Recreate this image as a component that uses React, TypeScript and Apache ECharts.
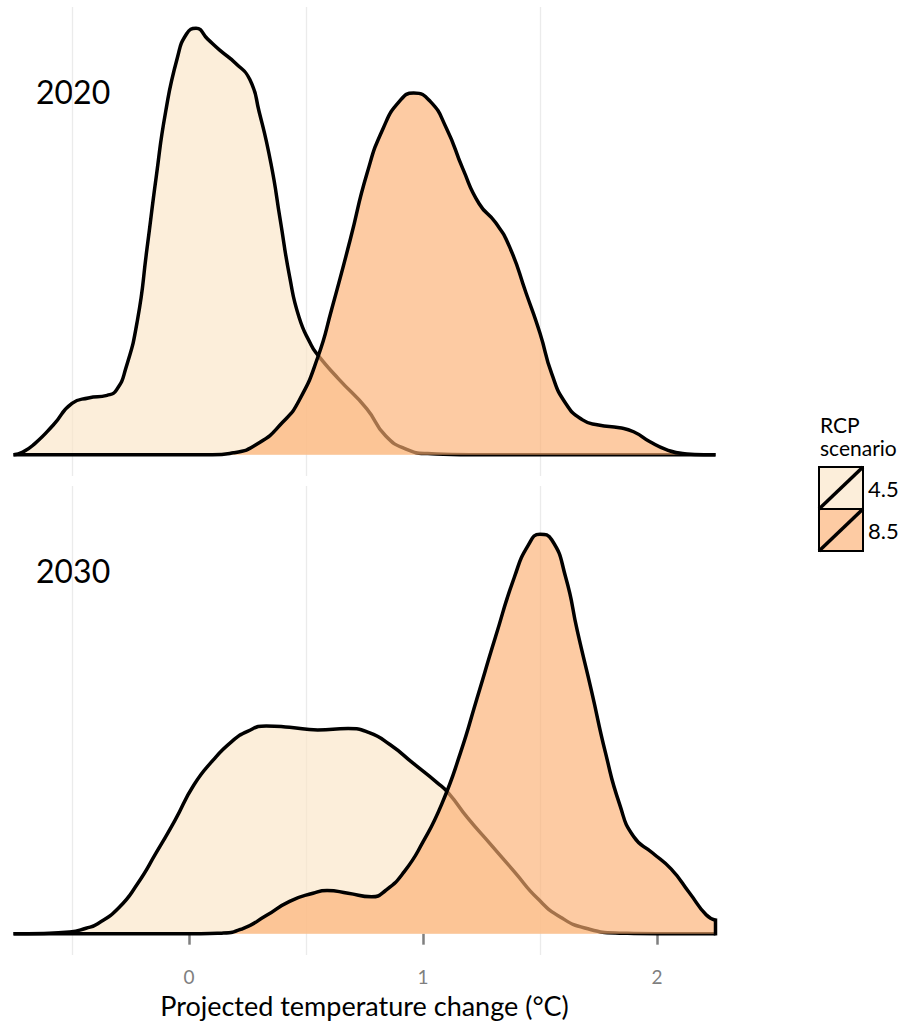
import React, { useEffect, useRef } from "react";
import * as echarts from "echarts";

// ---- data ----
const X_MIN = -0.75;
const X_MAX = 2.25;
const xTickValues = [0, 1, 2];
const minorGridValues = [-0.5, 0.5, 1.5];
const panelYears = ["2020", "2030"];
const scenarios = ["4.5", "8.5"];
const legendTitle = ["RCP", "scenario"];
const axisTitle = "Projected temperature change (°C)";

const rcp45_2020: [number, number][] = [
  [-0.75, 0], [-0.71, 0.01], [-0.66, 0.04], [-0.58, 0.11], [-0.5, 0.19], [-0.43, 0.21],
  [-0.35, 0.22], [-0.31, 0.24], [-0.27, 0.32], [-0.22, 0.5], [-0.18, 0.76], [-0.14, 1.03],
  [-0.1, 1.27], [-0.05, 1.47], [-0.01, 1.56], [0.03, 1.58], [0.08, 1.54], [0.13, 1.5],
  [0.2, 1.45], [0.26, 1.39], [0.3, 1.27], [0.35, 1.08], [0.39, 0.87], [0.43, 0.66],
  [0.47, 0.51], [0.52, 0.41], [0.55, 0.37], [0.64, 0.28], [0.76, 0.17], [0.84, 0.07],
  [0.93, 0.02], [1.02, 0.004], [1.2, 0], [2.25, 0],
];
const rcp85_2020: [number, number][] = [
  [-0.75, 0], [0.1, 0], [0.19, 0.007], [0.3, 0.044], [0.4, 0.12], [0.47, 0.2], [0.55, 0.36],
  [0.61, 0.54], [0.69, 0.8], [0.76, 1.04], [0.83, 1.21], [0.9, 1.31], [0.96, 1.34],
  [1.03, 1.31], [1.1, 1.21], [1.17, 1.06], [1.24, 0.93], [1.31, 0.86], [1.37, 0.77],
  [1.44, 0.6], [1.5, 0.45], [1.55, 0.3], [1.61, 0.19], [1.68, 0.13], [1.75, 0.11],
  [1.84, 0.1], [1.9, 0.085], [1.97, 0.048], [2.04, 0.019], [2.11, 0.004], [2.2, 0], [2.25, 0],
];
const rcp45_2030: [number, number][] = [
  [-0.75, 0], [-0.62, 0.001], [-0.51, 0.006], [-0.44, 0.02], [-0.39, 0.037], [-0.3, 0.096],
  [-0.22, 0.185], [-0.14, 0.3], [-0.06, 0.42], [0.02, 0.55], [0.1, 0.64], [0.18, 0.71],
  [0.25, 0.75], [0.33, 0.77], [0.43, 0.765], [0.55, 0.755], [0.68, 0.76], [0.77, 0.745],
  [0.86, 0.7], [0.96, 0.63], [1.06, 0.56], [1.11, 0.52], [1.19, 0.43], [1.29, 0.33],
  [1.39, 0.23], [1.49, 0.13], [1.59, 0.06], [1.7, 0.019], [1.84, 0.002], [2.0, 0], [2.25, 0],
];
const rcp85_2030: [number, number][] = [
  [-0.75, 0], [0.05, 0], [0.14, 0.002], [0.23, 0.019], [0.33, 0.067], [0.43, 0.12],
  [0.53, 0.15], [0.59, 0.16], [0.68, 0.15], [0.78, 0.137], [0.84, 0.16], [0.92, 0.23],
  [1.0, 0.34], [1.08, 0.48], [1.16, 0.67], [1.23, 0.87], [1.31, 1.1], [1.39, 1.32],
  [1.45, 1.44], [1.5, 1.48], [1.55, 1.46], [1.61, 1.32], [1.66, 1.12], [1.72, 0.9],
  [1.78, 0.67], [1.84, 0.48], [1.9, 0.36], [1.98, 0.3], [2.06, 0.24], [2.14, 0.15],
  [2.21, 0.07], [2.25, 0.05],
];

const panels = [
  [rcp45_2020, rcp85_2020],
  [rcp45_2030, rcp85_2030],
];

// ---- style ----
const FONT = "Lato";
const fills = ["rgba(250,229,198,0.65)", "rgba(252,175,113,0.65)"];
const GRID_LEFT = 13.5;
const GRID_WIDTH = 702;
const GRID_HEIGHT = 469;
const GRID_TOPS = [7, 486];
const LINE_W = 3.5;

export default function App() {
  const ref = useRef<HTMLDivElement>(null);

  useEffect(() => {
    if (!ref.current) return;
    const chart = echarts.init(ref.current, undefined, { renderer: "svg" });

    const allY = panels.flat(2).map((p: any) => p[1]);
    const yMaxData = Math.max(...allY);
    const pad = yMaxData * 0.05;

    const grids = GRID_TOPS.map((top) => ({
      left: GRID_LEFT,
      width: GRID_WIDTH,
      top,
      height: GRID_HEIGHT,
    }));

    const xAxes: any[] = GRID_TOPS.map((_, i) => {
      const isBottom = i === GRID_TOPS.length - 1;
      return {
        type: "value",
        gridIndex: i,
        min: X_MIN,
        max: X_MAX,
        axisLine: { show: false },
        splitLine: { show: false },
        axisTick: isBottom
          ? {
              show: true,
              customValues: xTickValues,
              length: 11,
              lineStyle: { color: "#7F7F7F", width: 2.5 },
            }
          : { show: false },
        axisLabel: isBottom
          ? {
              show: true,
              customValues: xTickValues,
              color: "#7F7F7F",
              fontSize: 19,
              lineHeight: 19,
              fontFamily: FONT,
              margin: 12,
            }
          : { show: false },
        name: isBottom ? axisTitle : "",
        nameLocation: "middle",
        nameGap: 37,
        nameTextStyle: { color: "#000", fontSize: 27, lineHeight: 27, fontFamily: FONT },
      };
    });

    const yAxes: any[] = GRID_TOPS.map((_, i) => ({
      type: "value",
      gridIndex: i,
      min: -pad,
      max: yMaxData + pad,
      show: false,
    }));

    const series: any[] = [];
    panels.forEach((panel, i) => {
      series.push({
        type: "line",
        xAxisIndex: i,
        yAxisIndex: i,
        data: [[X_MIN, 0]],
        symbol: "none",
        lineStyle: { width: 0 },
        silent: true,
        z: 0,
        markLine: {
          silent: true,
          z: 0,
          symbol: ["none", "none"],
          label: { show: false },
          lineStyle: { color: "#EBEBEB", width: 1.3, type: "solid" },
          data: minorGridValues.map((v) => ({ xAxis: v })),
        },
      });
      panel.forEach((curve, j) => {
        series.push({
          type: "line",
          name: scenarios[j],
          xAxisIndex: i,
          yAxisIndex: i,
          data: curve,
          smooth: 0.55,
          symbol: "none",
          showSymbol: false,
          lineStyle: { color: "#000", width: LINE_W, join: "round" },
          areaStyle: { color: fills[j], opacity: 1 },
          z: 2 + j,
        });
        // closing edge of the outline where the curve is cut by the panel edge
        const last = curve[curve.length - 1];
        if (last[1] > 0) {
          series.push({
            type: "line",
            xAxisIndex: i,
            yAxisIndex: i,
            data: [last, [last[0], 0]],
            symbol: "none",
            silent: true,
            clip: false,
            lineStyle: { color: "#000", width: LINE_W, cap: "square" },
            z: 2 + j,
          });
        }
      });
    });

    const graphic: any[] = [];
    panelYears.forEach((yr, i) => {
      graphic.push({
        type: "text",
        x: 36,
        y: [91, 570][i],
        style: {
          text: yr,
          font: `32px ${FONT}`,
          fill: "#000",
          verticalAlign: "middle",
        },
      });
    });
    // legend
    const LX = 819;
    const KEY_W = 44;
    const KEY_H = 42;
    const KEY_TOP = 467;
    legendTitle.forEach((t, k) => {
      graphic.push({
        type: "text",
        x: 820,
        y: [424, 447][k],
        style: { text: t, font: `21px ${FONT}`, fill: "#000", verticalAlign: "middle" },
      });
    });
    scenarios.forEach((s, k) => {
      const top = KEY_TOP + k * KEY_H;
      graphic.push({
        type: "rect",
        shape: { x: LX, y: top, width: KEY_W, height: KEY_H },
        style: { fill: fills[k], stroke: "#000", lineWidth: 2 },
        z: 10,
      });
      graphic.push({
        type: "line",
        shape: { x1: LX, y1: top + KEY_H, x2: LX + KEY_W, y2: top },
        style: { stroke: "#000", lineWidth: 3.5 },
        z: 11,
      });
      graphic.push({
        type: "text",
        x: LX + KEY_W + 5,
        y: top + KEY_H / 2,
        style: { text: s, font: `22px ${FONT}`, fill: "#000", verticalAlign: "middle" },
        z: 11,
      });
    });

    chart.setOption({
      animation: false,
      backgroundColor: "#fff",
      grid: grids,
      xAxis: xAxes,
      yAxis: yAxes,
      series,
      graphic,
    });

    return () => chart.dispose();
  }, []);

  return (
    <div
      ref={ref}
      style={{ position: "absolute", left: 0, top: 0, width: 912, height: 1027 }}
    />
  );
}
